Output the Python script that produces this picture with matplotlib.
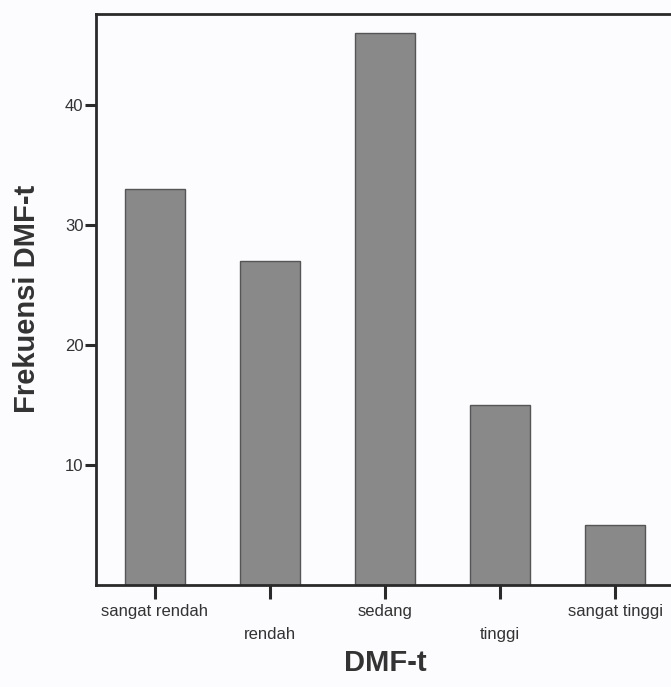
import matplotlib
matplotlib.use("Agg")
import matplotlib.pyplot as plt

categories = ["sangat rendah", "rendah", "sedang", "tinggi", "sangat tinggi"]
frekuensi = [33, 27, 46, 15, 5]
yticks = [10, 20, 30, 40]

plt.rcParams['font.family'] = ['Liberation Sans', 'DejaVu Sans']

fig = plt.figure(figsize=(6.71, 6.87), dpi=100)
fig.patch.set_facecolor('#fcfbfd')
ax = fig.add_axes([0.143, 0.1485, 0.862, 0.8315])
ax.set_facecolor('#fcfbfd')

x = list(range(len(categories)))
ax.bar(x, frekuensi, width=0.52, color='#898989', edgecolor='#555555', linewidth=1.0, zorder=2)

ax.set_xlim(-0.513, 4.513)
ax.set_ylim(0, 47.6)
ax.set_yticks(yticks)
ax.set_yticklabels([str(t) for t in yticks], fontsize=12, color='#333333')
ax.set_xticks(x)
labels = [c if i % 2 == 0 else "\n" + c for i, c in enumerate(categories)]
ax.set_xticklabels(labels, fontsize=12, color='#333333', linespacing=1.65)

for s in ['left', 'top', 'bottom']:
    ax.spines[s].set_linewidth(2.0)
    ax.spines[s].set_color('#2a2a2a')
ax.spines['right'].set_visible(False)
ax.tick_params(axis='y', length=8, width=2.2, color='#2a2a2a', pad=1)
ax.tick_params(axis='x', length=10, width=2.2, color='#2a2a2a', pad=4)

ax.set_ylabel("Frekuensi DMF-t", fontsize=21, fontweight='bold', color='#333333', labelpad=17)
ax.set_xlabel("DMF-t", fontsize=21, fontweight='bold', color='#333333', labelpad=5)

fig.savefig("out.png", dpi=100, facecolor=fig.get_facecolor())
